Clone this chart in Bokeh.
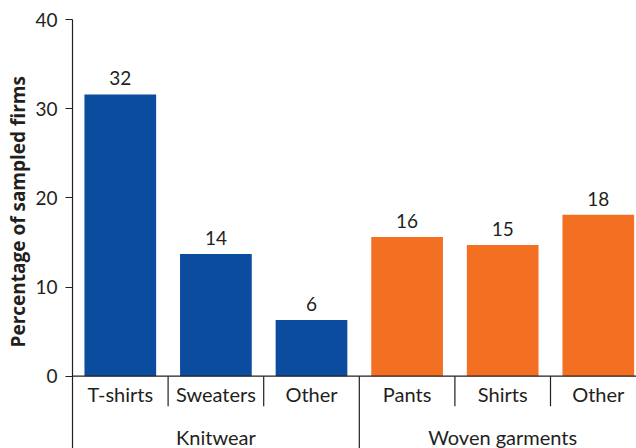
from bokeh.plotting import figure
from bokeh.models import Range1d, FixedTicker, Title, ColumnDataSource, Span
from bokeh.core.properties import value
from bokeh.embed import file_html
from bokeh.resources import INLINE

# ---------------- data ----------------
groups = ["Knitwear", "Woven garments"]
categories = ["T-shirts", "Sweaters", "Other", "Pants", "Shirts", "Other"]
category_group = ["Knitwear", "Knitwear", "Knitwear",
                  "Woven garments", "Woven garments", "Woven garments"]
percent = [31.6, 13.7, 6.3, 15.6, 14.7, 18.1]
percent_labels = ["32", "14", "6", "16", "15", "18"]
group_colors = {"Knitwear": "#0c4c9f", "Woven garments": "#f37022"}
y_ticks = [0, 10, 20, 30, 40]
y_title = "Percentage of sampled firms"

# ---------------- layout ----------------
W, H = 636, 448
BORDER_LEFT = 72
BORDER_TOP = 19
PX_PER_UNIT = 8.9175      # pixels per percentage point
CAT_PX = 95.6             # pixels per category
Y_TOP = 40
frame_h = H - BORDER_TOP
y_min = Y_TOP - frame_h / PX_PER_UNIT
x_max = (W - BORDER_LEFT) / CAT_PX

FONT = "Lato"
TXT = "#231f20"
FS = "19px"
FS_CAT = "20px"

n = len(categories)
xs = [i + 0.5 for i in range(n)]
src = ColumnDataSource(dict(
    x=xs, pct=percent, lab=percent_labels, cat=categories,
    color=[group_colors[g] for g in category_group],
))

p = figure(width=W, height=H, output_backend="svg", toolbar_location=None,
           x_range=Range1d(0, x_max), y_range=Range1d(y_min, Y_TOP),
           min_border_left=BORDER_LEFT, min_border_top=BORDER_TOP,
           min_border_right=0, min_border_bottom=0)
p.outline_line_color = None
p.xgrid.visible = False
p.ygrid.visible = False
p.xaxis.visible = False
p.background_fill_color = "white"
p.border_fill_color = "white"

ax = p.yaxis[0]
ax.ticker = FixedTicker(ticks=y_ticks)
ax.major_tick_out = 7
ax.major_tick_in = 0
ax.minor_tick_out = 0
ax.minor_tick_in = 0
ax.major_label_standoff = 8
ax.major_label_text_font = FONT
ax.major_label_text_font_size = FS
ax.major_label_text_color = TXT
ax.axis_line_color = TXT
ax.major_tick_line_color = TXT
ax.axis_line_width = 1.2
ax.major_tick_line_width = 1.2

# y title (rotated, left side, starting at fixed distance from bottom)
p.add_layout(Title(text=y_title, align="left", offset=101,
                   vertical_align="top", standoff=0,
                   text_font="Open Sans", text_font_size="19px",
                   text_font_style="bold", text_color=TXT), "left")

# bars
p.vbar(x="x", top="pct", bottom=0, width=0.75, fill_color="color",
       line_color=None, source=src)

# baseline
p.add_layout(Span(location=0, dimension="width", line_color=TXT, line_width=1.2))

# value labels
p.text(x="x", y="pct", text="lab", y_offset=-16, text_align="center",
       text_baseline="alphabetic", text_font=value(FONT), text_font_size=FS,
       text_color=TXT, source=src)

# category labels
p.text(x="x", y=0, text="cat", y_offset=17.5, text_align="center",
       text_baseline="alphabetic", text_font=value(FONT), text_font_size=FS_CAT,
       text_color=TXT, source=src)

# separators between categories
cat_seps = [i for i in range(1, n) if category_group[i] == category_group[i - 1]]
grp_seps = [i for i in range(1, n) if category_group[i] != category_group[i - 1]]
p.segment(x0=cat_seps, y0=[0] * len(cat_seps), x1=cat_seps,
          y1=[-30 / PX_PER_UNIT] * len(cat_seps), line_color=TXT, line_width=1.2)
p.segment(x0=grp_seps, y0=[0] * len(grp_seps), x1=grp_seps,
          y1=[y_min] * len(grp_seps), line_color=TXT, line_width=1.2)

# group labels
gx = []
for g in groups:
    idx = [i for i, cg in enumerate(category_group) if cg == g]
    gx.append((idx[0] + idx[-1] + 1) / 2)
p.text(x=gx, y=[0, 0], text=groups, y_offset=61, text_align="center",
       text_baseline="alphabetic", text_font=value(FONT), text_font_size=FS_CAT,
       text_color=TXT)

open("out.html", "w").write(file_html(p, INLINE))
